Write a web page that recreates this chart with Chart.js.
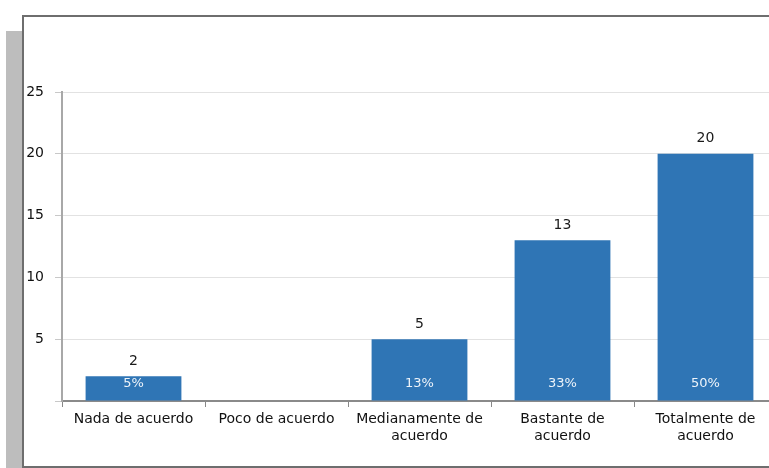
<!DOCTYPE html>
<html>
<head>
<meta charset="utf-8">
<script src="https://cdn.jsdelivr.net/npm/chart.js@4.4.1/dist/chart.umd.min.js"></script>
<style>
    html, body { margin: 0; padding: 0; width: 769px; height: 468px; overflow: hidden; background: #fff; }
    #franja { position: absolute; left: 6px; top: 31px; width: 17px; height: 437px; background: #bdbdbd; }
    #marco { position: absolute; left: 22px; top: 15px; width: 800px; height: 449px; border: 2px solid #6e6e6e; border-right: none; background: #fff; }
    #contenedor { position: absolute; left: 25px; top: 18px; width: 752px; height: 446px; }
</style>
</head>
<body>
<div id="franja"></div>
<div id="marco"></div>
<div id="contenedor"><canvas id="graficoAcuerdo"></canvas></div>
<script>
const categorias = [
    ['Nada de acuerdo'],
    ['Poco de acuerdo'],
    ['Medianamente de', 'acuerdo'],
    ['Bastante de', 'acuerdo'],
    ['Totalmente de', 'acuerdo']
];
const respuestas = [2, 0, 5, 13, 20];
const porcentajes = ['5%', '', '13%', '33%', '50%'];
const ticksY = [5, 10, 15, 20, 25];

// etiquetas encima y dentro de las barras
const etiquetasBarras = {
    id: 'etiquetasBarras',
    afterDatasetsDraw(chart) {
        const ctx = chart.ctx;
        const meta = chart.getDatasetMeta(0);
        ctx.save();
        ctx.textAlign = 'center';
        ctx.textBaseline = 'middle';
        meta.data.forEach((barra, i) => {
            if (!respuestas[i]) return;
            ctx.fillStyle = '#1a1a1a';
            ctx.font = '14px "DejaVu Sans"';
            ctx.fillText(String(respuestas[i]), barra.x, barra.y - 15);
            if (porcentajes[i]) {
                ctx.fillStyle = '#eef4fa';
                ctx.font = '13px "DejaVu Sans"';
                ctx.fillText(porcentajes[i], barra.x, barra.base - 17);
            }
        });
        ctx.restore();
    }
};

function crearGrafico() {
    const ctx = document.getElementById('graficoAcuerdo').getContext('2d');
    new Chart(ctx, {
        type: 'bar',
        data: {
            labels: categorias,
            datasets: [{
                data: respuestas,
                backgroundColor: '#2f75b5',
                borderWidth: 0,
                categoryPercentage: 0.67,
                barPercentage: 1
            }]
        },
        options: {
            responsive: true,
            maintainAspectRatio: false,
            animation: false,
            layout: { padding: { top: 74, right: 0, bottom: 0, left: 0 } },
            plugins: { legend: { display: false }, tooltip: { enabled: false } },
            scales: {
                x: {
                    afterFit: (escala) => { escala.height = 63; },
                    grid: { offset: true, drawOnChartArea: false, drawTicks: true, tickLength: 6, color: '#888' },
                    border: { color: '#8a8a8a', width: 2 },
                    ticks: {
                        color: '#111',
                        font: { family: 'DejaVu Sans', size: 14 },
                        maxRotation: 0,
                        autoSkip: false,
                        padding: 4
                    }
                },
                y: {
                    min: 0,
                    max: 25,
                    afterFit: (escala) => { escala.width = 37; },
                    afterBuildTicks: (escala) => { escala.ticks = [0].concat(ticksY).map(v => ({ value: v })); },
                    grid: { color: '#e2e2e2', tickLength: 7, tickColor: '#c8c8c8' },
                    border: { color: '#a8a8a8', width: 2 },
                    ticks: {
                        color: '#111',
                        font: { family: 'DejaVu Sans', size: 14 },
                        padding: 11,
                        callback: (v) => v === 0 ? '' : v
                    }
                }
            }
        },
        plugins: [etiquetasBarras]
    });
}

window.onload = crearGrafico;
</script>
</body>
</html>
